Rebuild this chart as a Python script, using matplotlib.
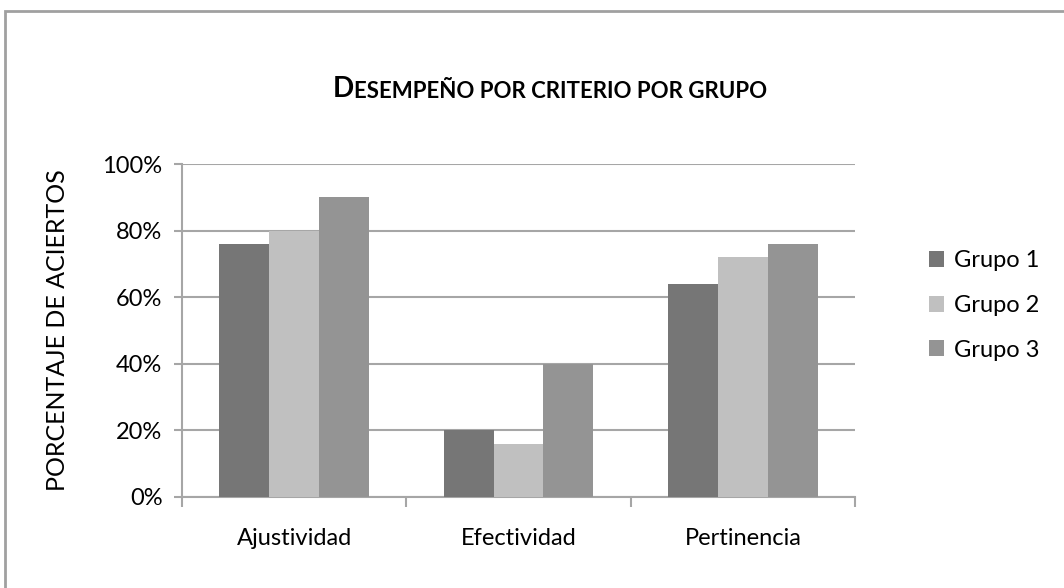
import matplotlib
matplotlib.use("Agg")
import matplotlib.pyplot as plt
import numpy as np
from matplotlib.patches import Rectangle

plt.rcParams['font.family'] = ['Lato', 'DejaVu Sans']

# data
criterios = ['Ajustividad', 'Efectividad', 'Pertinencia']
grupos = ['Grupo 1', 'Grupo 2', 'Grupo 3']
grupo1 = [76, 20, 64]
grupo2 = [80, 16, 72]
grupo3 = [90, 40, 76]
colores = ['#767676', '#c0c0c0', '#949494']

fig = plt.figure(figsize=(10.64, 5.88), dpi=100)
ax = fig.add_axes([0.171, 0.1548, 0.6326, 0.5662])

x = np.arange(len(criterios))
w = 1 / 4.5
for i, (vals, name) in enumerate(zip([grupo1, grupo2, grupo3], grupos)):
    ax.bar(x + (i - 1) * w, vals, width=w, color=colores[i], label=name, zorder=3)

ax.set_xlim(-0.5, 2.5)
ax.set_ylim(0, 100)
ax.set_yticks(range(0, 101, 20))
ax.set_yticklabels([f'{v}%' for v in range(0, 101, 20)])
ax.set_xticks(x)
ax.set_xticklabels(criterios)
ax.set_xticks([-0.5, 0.5, 1.5, 2.5], minor=True)
ax.tick_params(axis='x', which='major', length=0, pad=22, labelsize=17)
ax.tick_params(axis='x', which='minor', length=7, width=1.5, color='#a6a6a6')
ax.tick_params(axis='y', length=6, width=1.5, color='#a6a6a6', labelsize=17, pad=8)
ax.yaxis.grid(True, color='#a6a6a6', linewidth=1.5, zorder=0)
for s in ['top', 'right']:
    ax.spines[s].set_visible(False)
for s in ['left', 'bottom']:
    ax.spines[s].set_color('#a6a6a6')
    ax.spines[s].set_linewidth(1.5)

ax.set_ylabel('PORCENTAJE DE ACIERTOS', fontsize=18, labelpad=24)

# small caps title
t1 = fig.text(0.313, 0.835, 'D', fontsize=20, fontweight='bold', ha='left', va='baseline')
ax.annotate('ESEMPEÑO POR CRITERIO POR GRUPO', xy=(1, 0), xycoords=t1,
            fontsize=16, fontweight='bold', ha='left', va='bottom')

leg = ax.legend(loc='center left', bbox_to_anchor=(1.078, 0.575), frameon=False,
                fontsize=17, handlelength=0.65, handleheight=0.65,
                handletextpad=0.4, labelspacing=1.0)

# chart outer frame
fig.patches.append(Rectangle((0.005, -0.05), 1.05, 1.031, transform=fig.transFigure,
                             fill=False, edgecolor='#a0a0a0', linewidth=2))

fig.savefig('out.png', dpi=100)
